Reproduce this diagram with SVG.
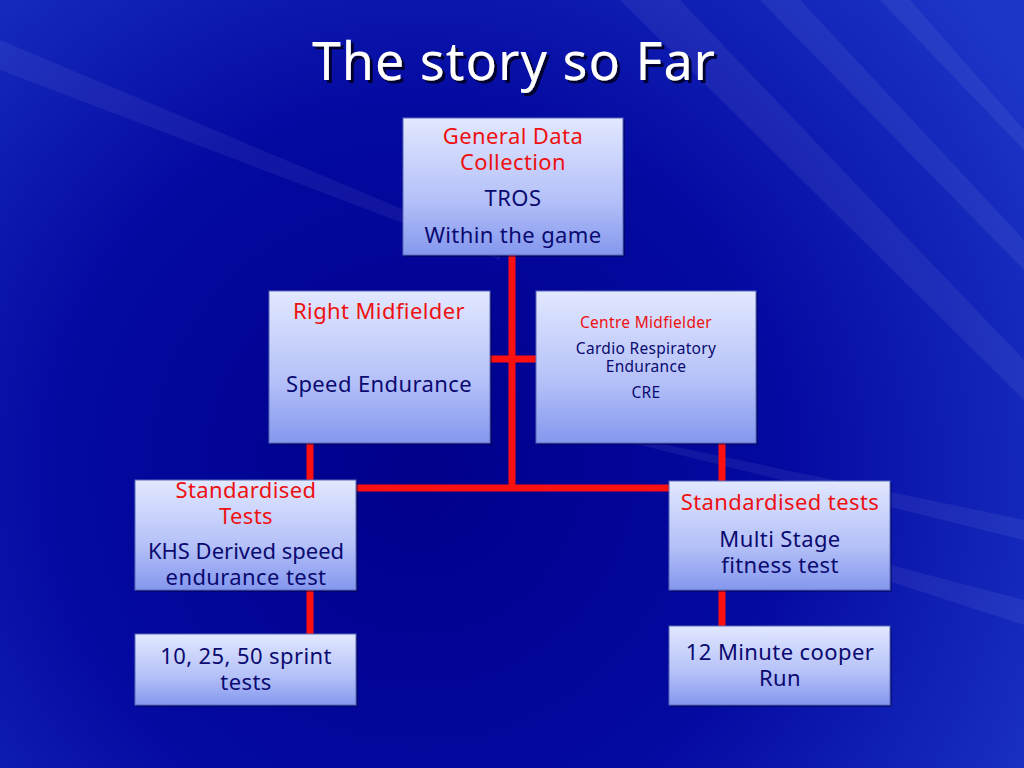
<svg xmlns="http://www.w3.org/2000/svg" width="1024" height="768" viewBox="0 0 1024 768">
<defs>
<radialGradient id="bg" cx="420" cy="470" r="720" gradientUnits="userSpaceOnUse">
<stop offset="0" stop-color="#00008a"/>
<stop offset="0.5" stop-color="#0409a0"/>
<stop offset="1" stop-color="#1c36c8"/>
</radialGradient>
<linearGradient id="box" x1="0" y1="0" x2="0" y2="1">
<stop offset="0" stop-color="#e2e8ff"/>
<stop offset="0.6" stop-color="#b4c0f8"/>
<stop offset="1" stop-color="#8497ee"/>
</linearGradient>
<filter id="ts" x="-10%" y="-10%" width="120%" height="130%">
<feDropShadow dx="3" dy="3" stdDeviation="0.5" flood-color="#000020" flood-opacity="0.9"/>
</filter>
</defs>
<style>
.box{fill:url(#box);stroke:#5a6ab8;stroke-width:1}
.shadow{fill:#000040;opacity:0.45}
text{font-family:"Noto Sans","DejaVu Sans",sans-serif;text-anchor:middle}
.r{fill:#ee1111}
.n{fill:#0a0a70}
.t22{font-size:22px;letter-spacing:0.4px}
.t16{font-size:15.5px;letter-spacing:0.3px}
.con{stroke:#ff1010;stroke-width:7;fill:none}
</style>
<rect width="1024" height="768" fill="url(#bg)"/>
<g opacity="0.06" fill="#ffffff">
<polygon points="620,0 680,0 1024,360 1024,400"/>
<polygon points="760,0 800,0 1024,240 1024,270"/>
<polygon points="880,0 910,0 1024,130 1024,150"/>
<polygon points="0,40 0,70 500,260 500,250"/>
<polygon points="1024,520 1024,540 620,440 620,435"/>
<polygon points="1024,600 1024,625 700,520 700,515"/>
</g>
<text x="514" y="80" font-size="52" fill="#ffffff" filter="url(#ts)" style="letter-spacing:1px">The story so Far</text>
<g id="connectors">
<line class="con" x1="512" y1="255" x2="512" y2="489"/>
<line class="con" x1="490" y1="359" x2="536" y2="359"/>
<line class="con" x1="356" y1="488" x2="669" y2="488"/>
<line class="con" x1="310" y1="443" x2="310" y2="480"/>
<line class="con" x1="310" y1="590" x2="310" y2="634"/>
<line class="con" x1="722" y1="443" x2="722" y2="481"/>
<line class="con" x1="722" y1="590" x2="722" y2="626"/>
</g>
<g id="general">
<rect class="shadow" x="405" y="120" width="220" height="137"/>
<rect class="box" x="403" y="118" width="220" height="137"/>
<text class="r t22" x="513" y="144">General Data</text>
<text class="r t22" x="513" y="170">Collection</text>
<text class="n t22" x="513" y="206">TROS</text>
<text class="n t22" x="513" y="243">Within the game</text>
</g>
<g id="right-mid">
<rect class="shadow" x="271" y="293" width="221" height="152"/>
<rect class="box" x="269" y="291" width="221" height="152"/>
<text class="r t22" x="379" y="319">Right Midfielder</text>
<text class="n t22" x="379" y="392">Speed Endurance</text>
</g>
<g id="centre-mid">
<rect class="shadow" x="538" y="293" width="220" height="152"/>
<rect class="box" x="536" y="291" width="220" height="152"/>
<text class="r t16" x="646" y="328">Centre Midfielder</text>
<text class="n t16" x="646" y="354">Cardio Respiratory</text>
<text class="n t16" x="646" y="372">Endurance</text>
<text class="n t16" x="646" y="398">CRE</text>
</g>
<g id="std-left">
<rect class="shadow" x="137" y="482" width="221" height="110"/>
<rect class="box" x="135" y="480" width="221" height="110"/>
<text class="r t22" x="246" y="498">Standardised</text>
<text class="r t22" x="246" y="524">Tests</text>
<text class="n t22" x="246" y="559" style="letter-spacing:0">KHS Derived speed</text>
<text class="n t22" x="246" y="585">endurance test</text>
</g>
<g id="std-right">
<rect class="shadow" x="671" y="483" width="221" height="109"/>
<rect class="box" x="669" y="481" width="221" height="109"/>
<text class="r t22" x="780" y="510">Standardised tests</text>
<text class="n t22" x="780" y="547">Multi Stage</text>
<text class="n t22" x="780" y="573">fitness test</text>
</g>
<g id="sprint">
<rect class="shadow" x="137" y="636" width="221" height="71"/>
<rect class="box" x="135" y="634" width="221" height="71"/>
<text class="n t22" x="246" y="664">10, 25, 50 sprint</text>
<text class="n t22" x="246" y="690">tests</text>
</g>
<g id="cooper">
<rect class="shadow" x="671" y="628" width="221" height="79"/>
<rect class="box" x="669" y="626" width="221" height="79"/>
<text class="n t22" x="780" y="660">12 Minute cooper</text>
<text class="n t22" x="780" y="686">Run</text>
</g>
</svg>
